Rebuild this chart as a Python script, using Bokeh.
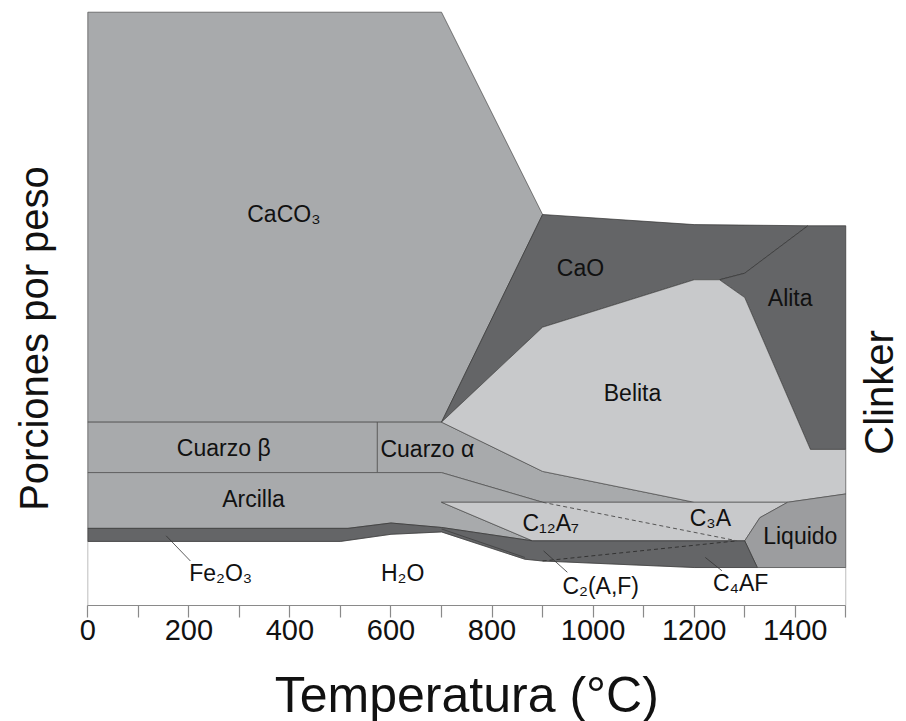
import math
from bokeh.plotting import figure
from bokeh.layouts import column
from bokeh.models import ColumnDataSource, FixedTicker, Label, Range1d
from bokeh.embed import file_html
from bokeh.resources import INLINE
from bokeh.core.properties import value

# ---------------- data: region outlines (temperature °C, cumulative weight portion 0-100)
caco3_t = [0, 700, 900, 700, 0]
caco3_w = [100, 100, 65.9, 30.9, 30.9]

cuarzo_b_t = [0, 573, 573, 0]
cuarzo_b_w = [30.9, 30.9, 22.4, 22.4]

cuarzo_a_t = [573, 700, 900, 1200, 900, 700, 573]
cuarzo_a_w = [30.9, 30.9, 22.6, 17.4, 17.4, 22.4, 22.4]

arcilla_t = [0, 700, 900, 700, 880, 700, 600, 515, 0]
arcilla_w = [22.4, 22.4, 17.4, 17.4, 10.9, 13.15, 13.9, 13.0, 13.0]

cao_t = [900, 1200, 1425, 1300, 1250, 1200, 900, 700]
cao_w = [65.9, 64.2, 64.0, 56.0, 54.9, 54.9, 46.9, 30.9]

alita_t = [1425, 1500, 1500, 1430, 1300, 1250, 1300]
alita_w = [64.0, 64.0, 26.3, 26.3, 51.9, 54.9, 56.0]

belita_t = [700, 900, 1200, 1250, 1300, 1430, 1500, 1500, 1385, 1200, 900]
belita_w = [30.9, 46.9, 54.9, 54.9, 51.9, 26.3, 26.3, 18.8, 17.4, 17.4, 22.6]

aluminato_t = [700, 1385, 1330, 1300, 880]          # C12A7 + C3A
aluminato_w = [17.4, 17.4, 14.8, 10.9, 10.9]

liquido_t = [1385, 1500, 1500, 1325, 1300, 1330]
liquido_w = [17.4, 18.8, 6.4, 6.4, 10.9, 14.8]

ferrita_t = [0, 515, 600, 700, 880, 1300, 1325, 1200, 900, 865, 700, 600, 500, 0]  # Fe2O3 + C2(A,F) + C4AF
ferrita_w = [13.0, 13.0, 13.9, 13.15, 10.9, 10.9, 6.4, 6.4, 7.5, 7.8, 12.4, 12.0, 10.8, 10.8]

agua_t = [0, 0, 500, 600, 700, 865, 900, 1200, 1500, 1500]
agua_w = [0, 10.8, 10.8, 12.0, 12.4, 7.8, 7.5, 6.4, 6.4, 0]

# internal boundaries
dash1_t = [900, 1285]   # C12A7 / C3A
dash1_w = [17.4, 10.9]
dash2_t = [900, 1285]   # C2(A,F) / C4AF
dash2_w = [7.5, 10.9]
fe_line_t = [700, 865]
fe_line_w = [12.9, 8.1]

# leader lines
lead_fe_t = [155, 203]
lead_fe_w = [11.75, 7.5]
lead_c2_t = [902, 949]
lead_c2_w = [9.2, 5.6]
lead_c4_t = [1222, 1255]
lead_c4_w = [8.1, 5.85]

# region labels
label_text = ["CaCO₃", "CaO", "Alita", "Belita", "Cuarzo β", "Cuarzo α", "Arcilla",
              "Fe₂O₃", "H₂O", "C₁₂A₇", "C₃A", "Liquido", "C₂(A,F)", "C₄AF"]
label_t = [388, 975, 1390, 1078, 269, 672, 328, 263, 623, 916, 1232, 1410, 1015, 1292]
label_w = [66.0, 56.8, 51.9, 35.9, 26.6, 26.4, 17.9, 5.5, 5.5, 13.9, 14.8, 11.75, 3.3, 3.8]

x_ticks = list(range(0, 1501, 100))
x_tick_labels = {t: (str(t) if t % 200 == 0 and t < 1500 else "") for t in x_ticks}

x_title = "Temperatura (°C)"
y_title = "Porciones por peso"
right_title = "Clinker"

# ---------------- main figure
FONT = "Liberation Sans"
p = figure(width=906, height=657, x_range=Range1d(-172.8, 1620.2), y_range=Range1d(0, 101.97),
           output_backend="svg", toolbar_location=None,
           min_border_left=0, min_border_right=0, min_border_top=0, min_border_bottom=52)
p.outline_line_color = None
p.grid.visible = False
p.yaxis.visible = False
p.background_fill_color = "white"
p.border_fill_color = "white"

C_MID = "#a8aaac"
C_LIGHT = "#c8c9cb"
C_DARK = "#646567"
C_LIQ = "#9c9d9f"
EDGE = "#4a4a4a"

regions = [
    (agua_t, agua_w, "white", "#a0a0a0"),
    (caco3_t, caco3_w, C_MID, EDGE),
    (cuarzo_b_t, cuarzo_b_w, C_MID, EDGE),
    (cuarzo_a_t, cuarzo_a_w, C_MID, EDGE),
    (arcilla_t, arcilla_w, C_MID, EDGE),
    (cao_t, cao_w, C_DARK, "#333333"),
    (alita_t, alita_w, C_DARK, "#333333"),
    (belita_t, belita_w, C_LIGHT, EDGE),
    (aluminato_t, aluminato_w, C_LIGHT, EDGE),
    (liquido_t, liquido_w, C_LIQ, EDGE),
    (ferrita_t, ferrita_w, C_DARK, "#333333"),
]
src = ColumnDataSource(dict(
    xs=[r[0] for r in regions], ys=[r[1] for r in regions],
    fill=[r[2] for r in regions], line=[r[3] for r in regions]))
p.patches("xs", "ys", source=src, fill_color="fill", line_color="line", line_width=0.7)

p.line(dash1_t, dash1_w, line_color="#555555", line_width=1, line_dash="4 3")
p.line(dash2_t, dash2_w, line_color="#333333", line_width=1, line_dash="4 3")
p.line(fe_line_t, fe_line_w, line_color="#333333", line_width=0.6)
for lt, lw in [(lead_fe_t, lead_fe_w), (lead_c2_t, lead_c2_w), (lead_c4_t, lead_c4_w)]:
    p.line(lt, lw, line_color="#333333", line_width=0.8)

lsrc = ColumnDataSource(dict(x=label_t, y=label_w, text=label_text))
p.text("x", "y", text="text", source=lsrc, text_font=value(FONT), text_font_size="23px",
       text_color="#111111", text_align="center", text_baseline="middle")

# x axis
ax = p.xaxis[0]
ax.bounds = (0, 1500)
ax.ticker = FixedTicker(ticks=x_ticks)
ax.major_label_overrides = x_tick_labels
ax.axis_line_color = "#8a8a8a"
ax.axis_line_width = 1.2
ax.major_tick_line_color = "#8a8a8a"
ax.major_tick_line_width = 1.2
ax.major_tick_out = 12
ax.major_tick_in = 0
ax.minor_tick_line_color = None
ax.major_label_text_font = FONT
ax.major_label_text_font_size = "29px"
ax.major_label_text_color = "#111111"
ax.major_label_standoff = 2

# side titles (inside the widened frame, so not clipped)
p.add_layout(Label(x=-107, y=45.0, text=y_title, text_font=FONT,
                   text_font_size="40px", text_align="center", text_baseline="middle",
                   angle=math.pi / 2, text_color="#111111"))
p.add_layout(Label(x=1565, y=35.9, text=right_title, text_font=FONT,
                   text_font_size="40px", text_align="center", text_baseline="middle",
                   angle=math.pi / 2, text_color="#111111"))

# ---------------- strip below holding the x title (centred under the drawn axis)
t = figure(width=906, height=64, x_range=Range1d(-172.8, 1620.2), y_range=Range1d(0, 64),
           output_backend="svg", toolbar_location=None,
           min_border_left=0, min_border_right=0, min_border_top=0, min_border_bottom=0)
t.axis.visible = False
t.grid.visible = False
t.outline_line_color = None
t.background_fill_color = "white"
t.border_fill_color = "white"
t.add_layout(Label(x=750, y=27, text=x_title, text_font=FONT, text_font_size="50px",
                   text_align="center", text_baseline="middle", text_color="#111111"))

open("out.html", "w").write(file_html(column(p, t, spacing=0), INLINE))
